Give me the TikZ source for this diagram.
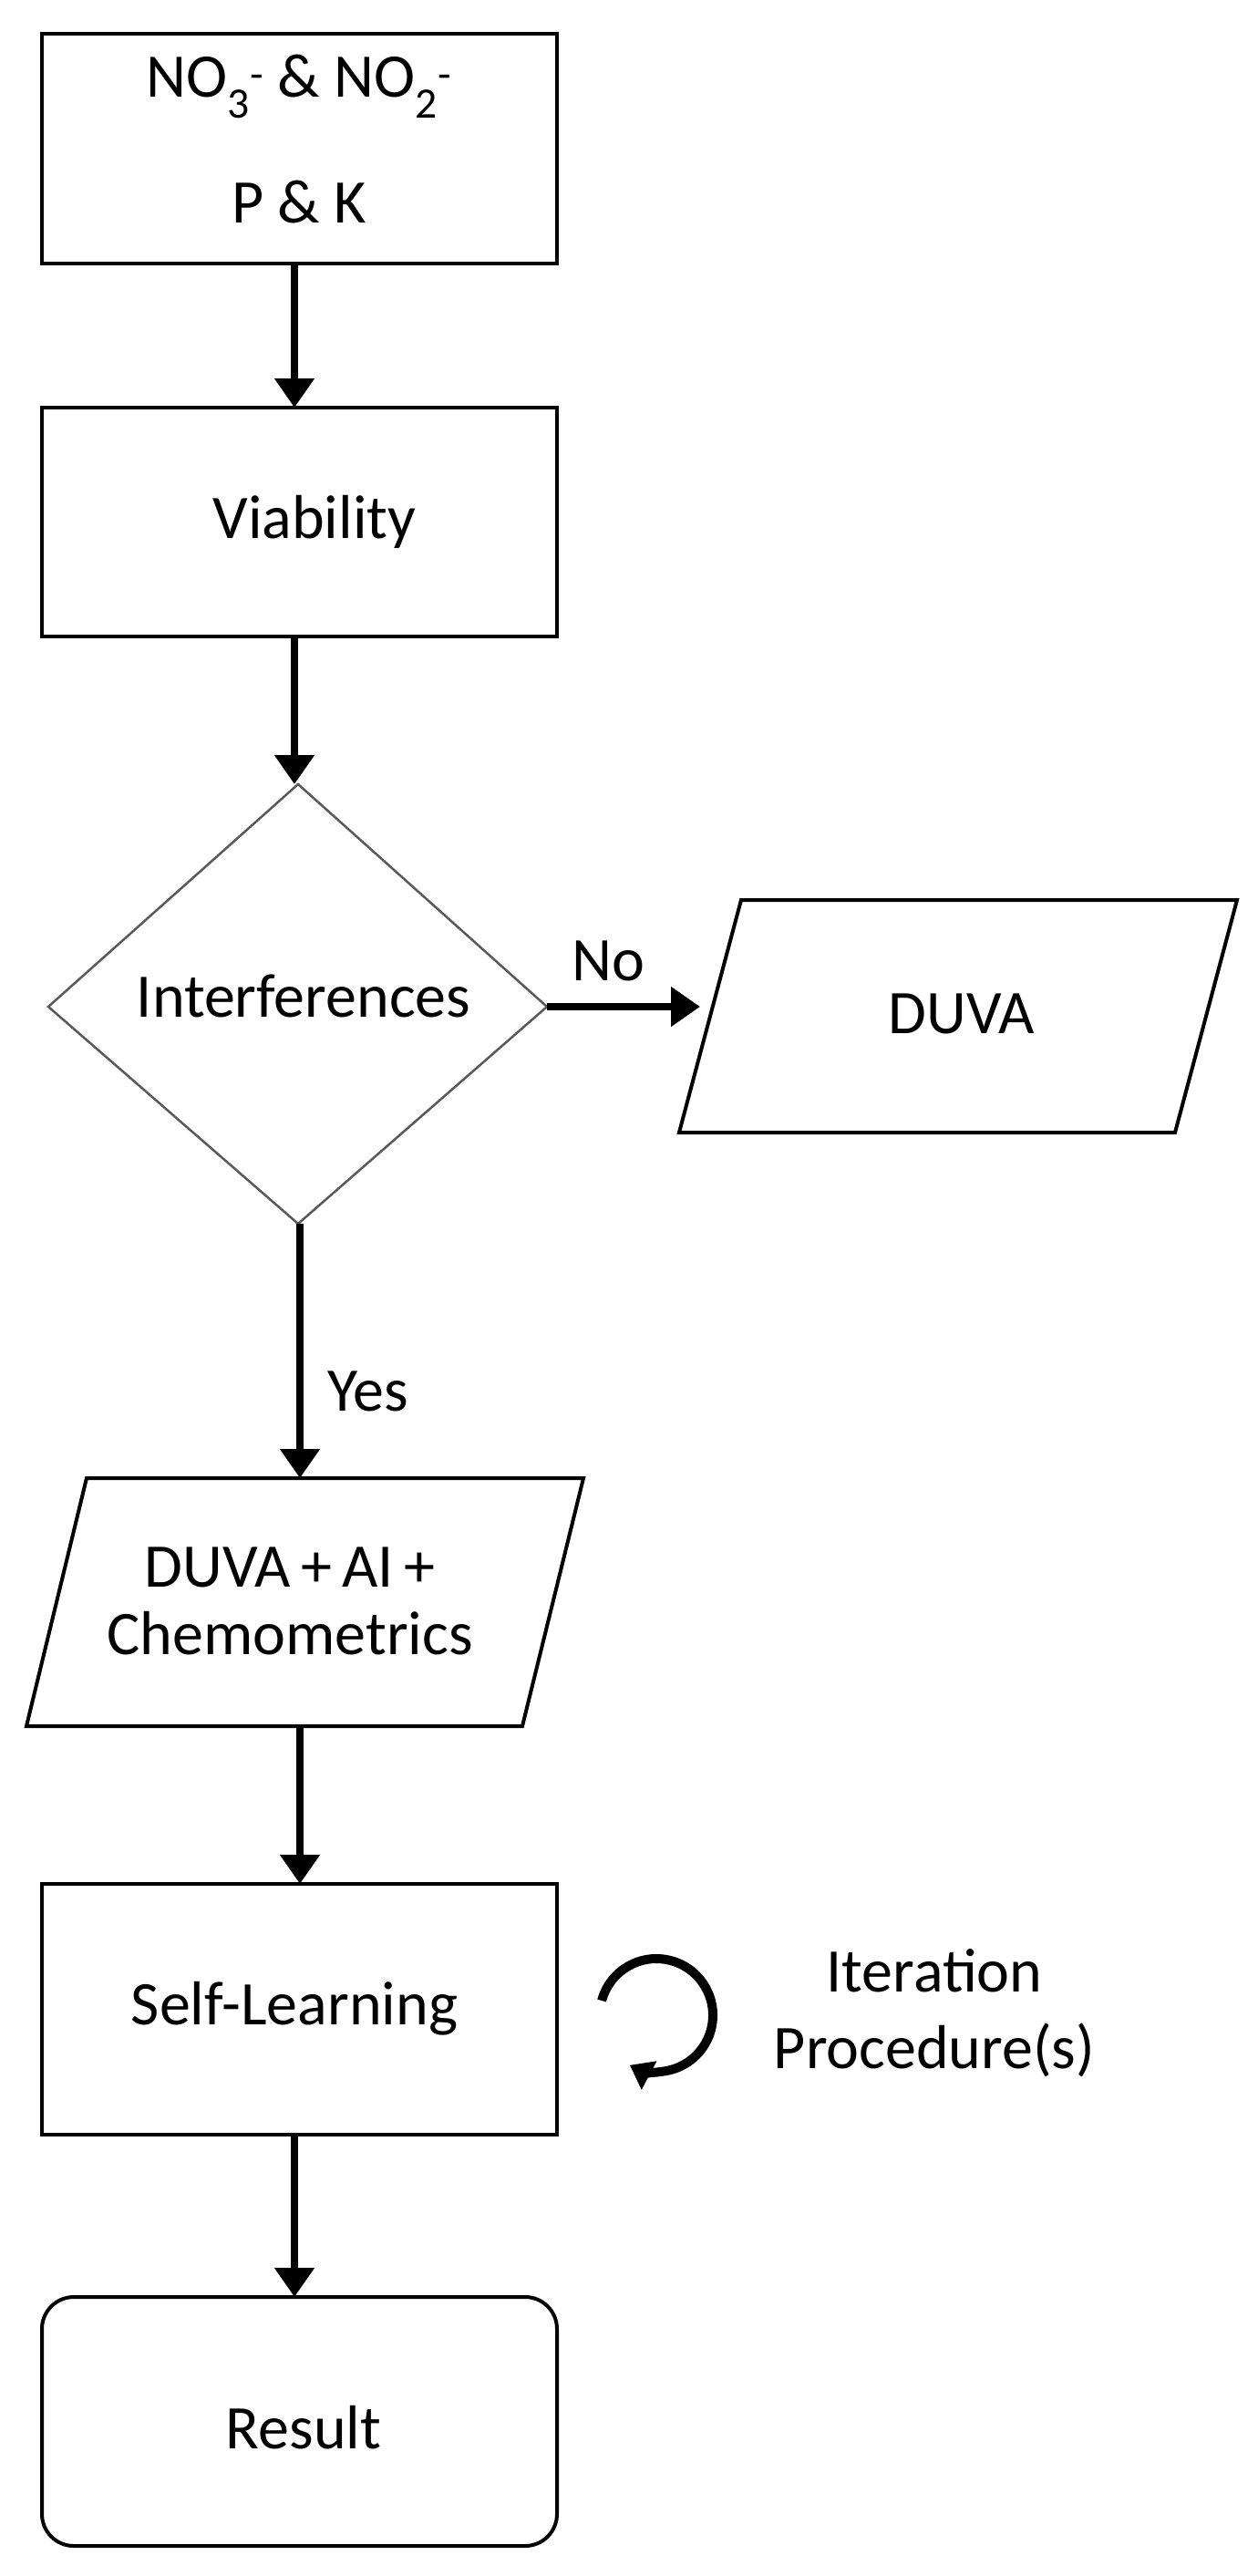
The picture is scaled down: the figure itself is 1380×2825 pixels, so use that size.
\documentclass[tikz,border=0pt]{standalone}
\usepackage{fontspec}
\setmainfont{Carlito}
\usetikzlibrary{arrows.meta}
\begin{document}
\begin{tikzpicture}[x=1pt,y=-1pt,
  box/.style={draw,line width=4pt},
  txt/.style={font=\fontsize{68}{80}\selectfont,inner sep=0pt},
  arr/.style={line width=8pt,-{Triangle[width=42pt,length=32pt]}}]
\useasboundingbox (0,0) rectangle (1380,2825);
% boxes
\draw[box] (46,37) rectangle (611,289);
\node[txt] (b1) at (328,95) {NO\textsubscript{3}\textsuperscript{-} \& NO\textsubscript{2}\textsuperscript{-}};
\node[txt] (b1b) at (328,222) {P \& K};
\coordinate (b1s) at (323,289);
\draw[box] (46,447) rectangle (611,698);
\node[txt] (b2) at (345,572) {Viability};
\coordinate (b2n) at (323,447);
\coordinate (b2s) at (323,698);
% diamond
\draw[line width=2.5pt,draw=black!65] (327,860) -- (600,1104) -- (327,1342) -- (53,1104) -- cycle;
\node[txt] (d) at (333,1092) {Interferences};
\coordinate (dn) at (323,860);
\coordinate (de) at (600,1104);
\coordinate (ds) at (329,1342);
% DUVA
\draw[box] (813,987) -- (1357,987) -- (1289,1242) -- (745,1242) -- cycle;
\node[txt] (duva) at (1055,1112) {DUVA};
\coordinate (duvaw) at (768,1104);
% DUVA+AI
\draw[box] (95,1621) -- (640,1621) -- (573,1893) -- (29,1893) -- cycle;
\node[txt,align=center] (p2) at (318,1756) {DUVA\,+\,AI\,+\\[-6pt]Chemometrics};
\coordinate (p2n) at (329,1621);
\coordinate (p2s) at (329,1893);
% Self-learning
\draw[box] (46,2066) rectangle (611,2341);
\node[txt] (sl) at (323,2203) {Self-Learning};
\coordinate (sln) at (329,2066);
\coordinate (sls) at (323,2341);
% Result
\draw[box,rounded corners=35pt] (46,2519) rectangle (611,2792);
\node[txt] (res) at (333,2662) {Result};
\coordinate (resn) at (323,2519);
% connectors
\draw[arr] (b1s) -- (b2n);
\draw[arr] (b2s) -- (dn);
\draw[arr] (de) -- (duvaw);
\draw[arr] (ds) -- (p2n);
\draw[arr] (p2s) -- (sln);
\draw[arr] (sls) -- (resn);
\node[txt] (no) at (667,1054) {No};
\node[txt] (yes) at (404,1526) {Yes};
% iteration
\coordinate (ic) at (720,2210);
\draw[line width=10pt,-{Triangle[width=34pt,length=24pt]}] ([shift={(195:62)}]ic) arc[start angle=195,end angle=478,radius=62];
\node[txt,align=center] (it) at (1025,2208) {Iteration\\[4pt]Procedure(s)};
\end{tikzpicture}
\end{document}
